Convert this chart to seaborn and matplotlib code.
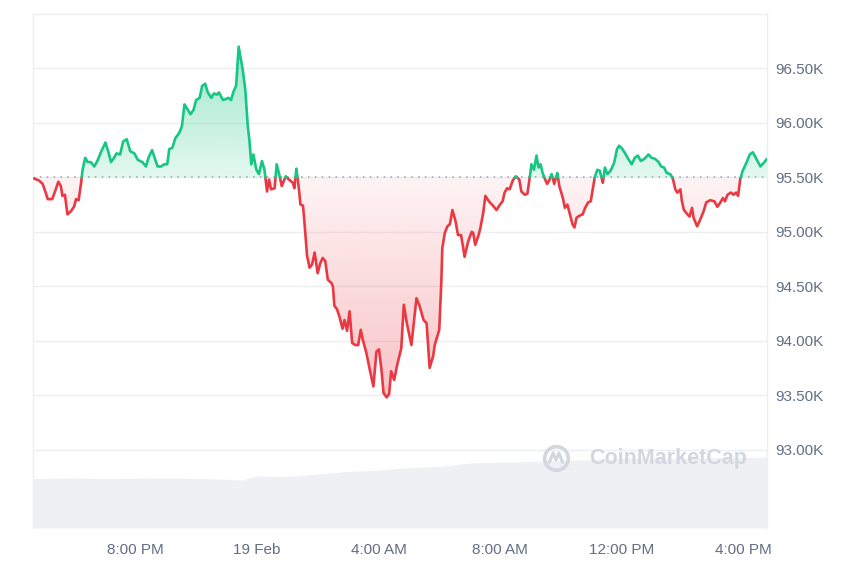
import numpy as np
import pandas as pd
import seaborn as sns
import matplotlib.pyplot as plt
import matplotlib.dates as mdates
from matplotlib.path import Path
from matplotlib.ticker import FuncFormatter

# BTC price (K USD), 18-19 Feb
times = [
    "16:40", "16:50", "16:57", "17:03", "17:07", "17:16", "17:23", "17:28", "17:33", "17:36",
    "17:41", "17:46", "17:53", "17:59", "18:03", "18:08", "18:13", "18:16", "18:21", "18:26",
    "18:32", "18:39", "18:45", "18:52", "19:01", "19:07", "19:12", "19:18", "19:23", "19:30",
    "19:36", "19:43", "19:50", "19:58", "20:05", "20:14", "20:21", "20:26", "20:33", "20:38",
    "20:44", "20:51", "20:57", "21:03", "21:07", "21:13", "21:19", "21:27", "21:32", "21:37",
    "21:41", "21:49", "21:55", "22:00", "22:07", "22:12", "22:18", "22:23", "22:30", "22:35",
    "22:41", "22:45", "22:53", "22:59", "23:04", "23:09", "23:14", "23:19", "23:24", "23:32",
    "23:37", "23:42", "23:45", "23:49", "23:53", "23:59", "00:04", "00:10", "00:15", "00:20",
    "00:24", "00:28", "00:35", "00:39", "00:45", "00:49", "00:57", "01:03", "01:11", "01:14",
    "01:18", "01:23", "01:26", "01:31", "01:34", "01:39", "01:44", "01:49", "01:54", "02:00",
    "02:05", "02:10", "02:15", "02:20", "02:27", "02:30", "02:33", "02:38", "02:43", "02:49",
    "02:53", "02:58", "03:03", "03:08", "03:14", "03:20", "03:25", "03:29", "03:36", "03:43",
    "03:50", "03:56", "04:01", "04:06", "04:10", "04:16", "04:21", "04:25", "04:31", "04:37",
    "04:45", "04:50", "04:56", "05:05", "05:15", "05:21", "05:29", "05:35", "05:41", "05:48",
    "05:51", "06:00", "06:04", "06:06", "06:11", "06:16", "06:21", "06:26", "06:32", "06:37",
    "06:43", "06:47", "06:50", "06:57", "07:04", "07:07", "07:11", "07:17", "07:21", "07:27",
    "07:31", "07:38", "07:46", "07:53", "08:00", "08:05", "08:09", "08:14", "08:19", "08:25",
    "08:31", "08:38", "08:42", "08:49", "08:54", "08:59", "09:02", "09:07", "09:12", "09:16",
    "09:20", "09:24", "09:29", "09:33", "09:38", "09:42", "09:47", "09:53", "09:57", "10:04",
    "10:08", "10:13", "10:18", "10:23", "10:27", "10:31", "10:38", "10:43", "10:48", "10:54",
    "10:59", "11:03", "11:07", "11:12", "11:17", "11:23", "11:27", "11:32", "11:38", "11:45",
    "11:51", "11:55", "12:00", "12:07", "12:13", "12:20", "12:26", "12:32", "12:38", "12:45",
    "12:53", "12:59", "13:06", "13:13", "13:18", "13:24", "13:29", "13:36", "13:41", "13:46",
    "13:50", "13:56", "13:59", "14:03", "14:10", "14:14", "14:19", "14:22", "14:29", "14:35",
    "14:42", "14:47", "14:55", "15:03", "15:09", "15:15", "15:20", "15:24", "15:29", "15:36",
    "15:41", "15:46", "15:50", "15:54", "15:59", "16:06", "16:13", "16:19", "16:26", "16:34",
    "16:40", "16:47",
]
prices = [
    95.49, 95.47, 95.44, 95.36, 95.30, 95.30, 95.39, 95.46, 95.42, 95.33,
    95.34, 95.16, 95.19, 95.23, 95.30, 95.29, 95.45, 95.57, 95.68, 95.64,
    95.64, 95.60, 95.65, 95.73, 95.82, 95.73, 95.64, 95.68, 95.72, 95.71,
    95.83, 95.85, 95.74, 95.72, 95.66, 95.64, 95.60, 95.68, 95.75, 95.68,
    95.60, 95.60, 95.62, 95.62, 95.76, 95.77, 95.86, 95.91, 95.97, 96.17,
    96.14, 96.08, 96.12, 96.21, 96.23, 96.34, 96.36, 96.28, 96.23, 96.27,
    96.26, 96.28, 96.21, 96.22, 96.23, 96.21, 96.29, 96.34, 96.70, 96.49,
    96.31, 95.97, 95.85, 95.62, 95.71, 95.57, 95.53, 95.65, 95.57, 95.37,
    95.48, 95.39, 95.40, 95.62, 95.51, 95.42, 95.51, 95.48, 95.45, 95.40,
    95.58, 95.39, 95.25, 95.24, 95.08, 94.78, 94.67, 94.70, 94.81, 94.62,
    94.71, 94.76, 94.73, 94.56, 94.53, 94.50, 94.32, 94.29, 94.22, 94.11,
    94.19, 94.09, 94.27, 93.98, 93.96, 93.96, 94.10, 94.01, 93.89, 93.73,
    93.58, 93.90, 93.92, 93.73, 93.52, 93.48, 93.51, 93.72, 93.64, 93.78,
    93.93, 94.33, 94.16, 93.96, 94.39, 94.32, 94.19, 94.16, 93.75, 93.86,
    93.96, 94.10, 94.53, 94.85, 94.99, 95.05, 95.07, 95.20, 95.10, 94.97,
    94.97, 94.86, 94.77, 94.91, 95.00, 94.99, 94.88, 94.96, 95.03, 95.18,
    95.33, 95.28, 95.24, 95.20, 95.25, 95.28, 95.36, 95.40, 95.39, 95.47,
    95.51, 95.48, 95.37, 95.34, 95.35, 95.51, 95.62, 95.57, 95.70, 95.59,
    95.62, 95.54, 95.48, 95.44, 95.48, 95.53, 95.44, 95.54, 95.42, 95.31,
    95.22, 95.25, 95.16, 95.07, 95.04, 95.13, 95.15, 95.16, 95.22, 95.27,
    95.28, 95.39, 95.50, 95.57, 95.56, 95.45, 95.59, 95.53, 95.56, 95.63,
    95.76, 95.79, 95.77, 95.72, 95.67, 95.62, 95.68, 95.70, 95.65, 95.67,
    95.71, 95.68, 95.67, 95.64, 95.60, 95.59, 95.54, 95.53, 95.49, 95.39,
    95.36, 95.39, 95.28, 95.20, 95.16, 95.14, 95.22, 95.13, 95.05, 95.11,
    95.19, 95.27, 95.29, 95.28, 95.23, 95.27, 95.31, 95.28, 95.34, 95.36,
    95.34, 95.36, 95.33, 95.48, 95.56, 95.63, 95.71, 95.73, 95.67, 95.60,
    95.63, 95.67,
]
base_price = 95.50

# volume (relative), hourly
vol_times = ["16:38", "17:00", "18:00", "19:00", "20:00", "21:00", "22:00", "23:00", "23:30",
             "00:00", "01:00", "02:00", "03:00", "04:00", "05:00", "06:00", "07:00", "08:00",
             "09:00", "10:00", "11:00", "12:00", "13:00", "14:00", "15:00", "16:00", "16:47"]
volume = [29.0, 29.0, 29.2, 28.9, 29.1, 29.3, 29.0, 28.4, 28.0,
          30.5, 30.0, 31.5, 33.0, 33.9, 35.3, 35.9, 37.9, 38.5,
          38.8, 39.5, 40.0, 40.7, 40.7, 40.7, 41.0, 41.2, 41.3]

y_ticks = [93.0, 93.5, 94.0, 94.5, 95.0, 95.5, 96.0, 96.5]
x_tick_times = ["2025-02-18 20:00", "2025-02-19 00:00", "2025-02-19 04:00",
                "2025-02-19 08:00", "2025-02-19 12:00", "2025-02-19 16:00"]
x_tick_labels = ["8:00 PM", "19 Feb", "4:00 AM", "8:00 AM", "12:00 PM", "4:00 PM"]

GREEN = "#16c784"
RED = "#ea3943"
GRID = "#eceff2"
TXT = "#616e85"


def to_stamps(hhmm, start="2025-02-18"):
    day = pd.Timestamp(start)
    out, prev = [], None
    for s in hhmm:
        h, m = map(int, s.split(":"))
        if prev is not None and (h, m) < prev:
            day += pd.Timedelta(days=1)
        prev = (h, m)
        out.append(day + pd.Timedelta(hours=h, minutes=m))
    return pd.DatetimeIndex(out)


t = to_stamps(times)
vt = to_stamps(vol_times)

# split the line into above / below segments, adding the crossing points
rows = []
seg = 0
side = "up" if prices[0] >= base_price else "down"
for i, p in enumerate(prices):
    s = "up" if p >= base_price else "down"
    if i > 0 and s != side:
        f = (base_price - prices[i - 1]) / (p - prices[i - 1])
        tc = t[i - 1] + (t[i] - t[i - 1]) * f
        rows.append((tc, base_price, seg, side))
        seg += 1
        side = s
        rows.append((tc, base_price, seg, side))
    rows.append((t[i], p, seg, side))
df = pd.DataFrame(rows, columns=["time", "price", "seg", "side"])

sns.set_theme(style="white")
plt.rcParams["font.family"] = ["Liberation Sans", "DejaVu Sans"]

fig = plt.figure(figsize=(8.6, 5.73), dpi=100)
pos = [33 / 860, 45 / 573, 734 / 860, 514 / 573]
xlim = (mdates.date2num(pd.Timestamp("2025-02-18 16:38")),
        mdates.date2num(pd.Timestamp("2025-02-19 16:47")))

# volume behind the price
ax_v = fig.add_axes(pos, zorder=0)
ax_v.fill_between(mdates.date2num(vt), 0, volume, color="#eef0f3", lw=0)
ax_v.set_xlim(xlim)
ax_v.set_ylim(0, 300)
ax_v.axis("off")

ax = fig.add_axes(pos, zorder=1)
ax.patch.set_alpha(0)

for yv in y_ticks:
    ax.axhline(yv, color=GRID, lw=1, zorder=0)
ax.axhline(base_price, color="#9aa3b5", lw=1.1, ls=(0, (1, 3.5)), zorder=1)

sns.lineplot(data=df, x="time", y="price", hue="side", units="seg", estimator=None,
             palette={"up": GREEN, "down": RED}, lw=1.9, legend=False, ax=ax, zorder=4)

xs = mdates.date2num(df["time"])
pv = df["price"].to_numpy()


def grad_fill(lo, hi, color, a_lo, a_hi, y0, y1):
    poly = ax.fill_between(xs, lo, hi, color="none", lw=0)
    rgb = np.array(plt.matplotlib.colors.to_rgb(color))
    img = np.zeros((256, 1, 4))
    img[:, 0, :3] = rgb
    img[:, 0, 3] = np.linspace(a_lo, a_hi, 256)
    im = ax.imshow(img, extent=[xs[0], xs[-1], y0, y1], origin="lower",
                   aspect="auto", zorder=2, interpolation="bilinear")
    clip = Path.make_compound_path(*poly.get_paths())
    im.set_clip_path(clip, transform=ax.transData)


grad_fill(base_price, np.maximum(pv, base_price), GREEN, 0.12, 0.42, base_price, pv.max())
grad_fill(np.minimum(pv, base_price), base_price, RED, 0.30, 0.06, pv.min(), base_price)

ax.set_xlim(xlim)
ax.set_ylim(92.28, 97.0)

ax.yaxis.tick_right()
ax.set_yticks(y_ticks)
ax.yaxis.set_major_formatter(FuncFormatter(lambda v, _: f"{v:.2f}K"))
ax.set_xticks([mdates.date2num(pd.Timestamp(s)) for s in x_tick_times])
ax.set_xticklabels(x_tick_labels)
ax.tick_params(axis="both", length=0, labelsize=11, labelcolor=TXT)
ax.tick_params(axis="x", pad=11)
ax.tick_params(axis="y", pad=6)
ax.set_xlabel("")
ax.set_ylabel("")

for name in ["top", "left", "right"]:
    ax.spines[name].set_color(GRID)
    ax.spines[name].set_linewidth(1)
ax.spines["bottom"].set_visible(False)

# watermark
wm = "#d2d7df"
ax.plot([0.7125], [0.136], marker="o", ms=17, mfc="none", mec=wm, mew=2.6,
        transform=ax.transAxes, zorder=3)
ax.plot([0.7035, 0.7085, 0.7125, 0.7165, 0.7215], [0.128, 0.146, 0.132, 0.146, 0.128],
        color=wm, lw=2.2, transform=ax.transAxes, zorder=3, solid_capstyle="round")
ax.text(0.757, 0.136, "CoinMarketCap", transform=ax.transAxes, color=wm,
        fontsize=15.5, fontweight="bold", va="center", ha="left", zorder=3)

fig.savefig("out.png", dpi=100)
